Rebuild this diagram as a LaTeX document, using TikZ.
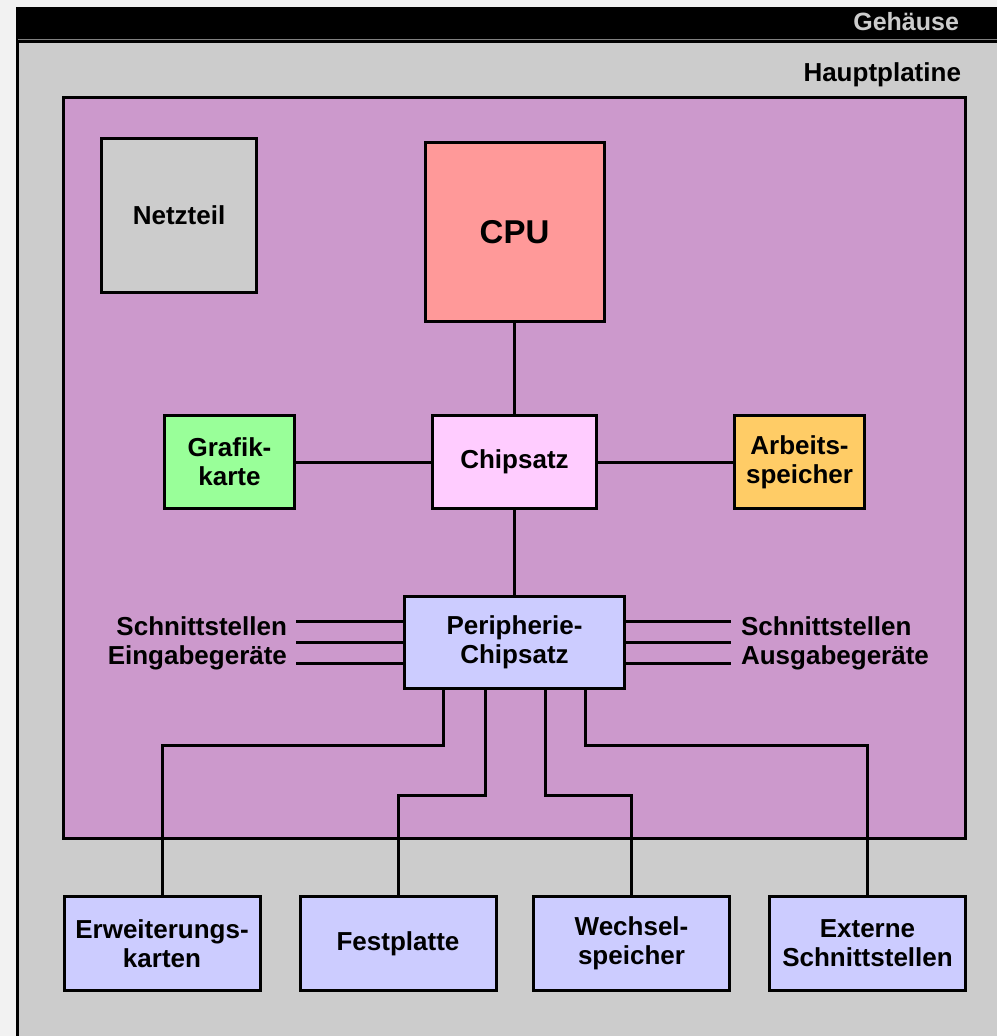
\documentclass[tikz,border=0pt]{standalone}
\usepackage{fontspec}
\setmainfont{Liberation Sans}
\usetikzlibrary{positioning}

\definecolor{pagegray}{HTML}{F2F2F2}
\definecolor{casegray}{HTML}{CCCCCC}
\definecolor{boardviolet}{HTML}{CC99CC}
\definecolor{cpured}{HTML}{FF9999}
\definecolor{chippink}{HTML}{FFCCFF}
\definecolor{gpugreen}{HTML}{99FF99}
\definecolor{ramorange}{HTML}{FFCC66}
\definecolor{periblue}{HTML}{CCCCFF}

\tikzset{box/.style={draw, line width=1.5pt, align=center, inner sep=0pt,
    font=\bfseries\fontsize{13}{14.5}\selectfont}}
\tikzset{link/.style={line width=1.5pt}}
\tikzset{lowbox/.style={box, fill=periblue, minimum width=98pt, minimum height=47pt}}

\begin{document}
\begin{tikzpicture}[x=0.5pt,y=-0.5pt]
\useasboundingbox[fill=pagegray] (0,0) rectangle (997,1036);
% Gehaeuse
\fill[black] (16,7) rectangle (997,43);
\draw[gray, line width=0.8pt] (18,39.5) -- (997,39.5);
\fill[casegray] (19,43) rectangle (997,1036);
\draw[line width=1.5pt] (17.5,1036) -- (17.5,41.5) -- (997,41.5);
\node[anchor=east, text=casegray, font=\bfseries\fontsize{12.5}{14}\selectfont] (gehaeuse) at (966,22) {Gehäuse};
\node[anchor=east, font=\bfseries\fontsize{13}{14.5}\selectfont] (hauptlabel) at (968,75) {Hauptplatine};

% Hauptplatine
\node[box, fill=boardviolet, minimum width=451pt, minimum height=370.5pt] (platine) at (514.5,468) {};

\node[box, fill=casegray, minimum width=77.5pt, minimum height=77pt] (netzteil) at (179,215.5) {Netzteil};
\node[box, fill=cpured, minimum width=89.5pt, minimum height=89.5pt, font=\bfseries\fontsize{16.5}{18}\selectfont] (cpu) at (514.5,232) {CPU};
\node[box, fill=chippink, minimum width=82pt, minimum height=46.5pt] (chipsatz) at (514.5,462) {Chipsatz};
\node[box, fill=gpugreen, minimum width=65pt, minimum height=46.5pt] (grafik) at (229.5,462) {Grafik-\\karte};
\node[box, fill=ramorange, minimum width=65pt, minimum height=46.5pt] (ram) at (799.5,462) {Arbeits-\\speicher};
\node[box, fill=periblue, minimum width=110pt, minimum height=46pt] (peri) at (514.5,642.5) {Peripherie-\\Chipsatz};

\draw[link] (cpu) -- (chipsatz);
\draw[link] (grafik) -- (chipsatz);
\draw[link] (chipsatz) -- (ram);
\draw[link] (chipsatz) -- (peri);

% Schnittstellen links und rechts
\foreach \s in {10.5,0,-10.5} {
    \draw[link] ([yshift=\s pt]peri.west) -- ++(-107,0);
    \draw[link] ([yshift=\s pt]peri.east) -- ++(105,0);
}
\node[anchor=east, align=right, font=\bfseries\fontsize{13}{14.5}\selectfont] (eingabe) at (294,643.5) {Schnittstellen\\Eingabegeräte};
\node[anchor=west, align=left, font=\bfseries\fontsize{13}{14.5}\selectfont] (ausgabe) at (734,643.5) {Schnittstellen\\Ausgabegeräte};

% Laufwerke und Karten
\node[lowbox] (erweiterung) at (162,943.5) {Erweiterungs-\\karten};
\node[lowbox] (festplatte) at (398,943.5) {Festplatte};
\node[lowbox] (wechsel) at (631.5,943.5) {Wechsel-\\speicher};
\node[lowbox] (extern) at (867.5,943.5) {Externe\\Schnittstellen};

\draw[link] ([xshift=20pt]peri.south west) -- ++(0,55) -| (erweiterung.north);
\draw[link] ([xshift=41pt]peri.south west) -- ++(0,105) -| (festplatte.north);
\draw[link] ([xshift=71pt]peri.south west) -- ++(0,105) -| (wechsel.north);
\draw[link] ([xshift=91pt]peri.south west) -- ++(0,55) -| (extern.north);
\end{tikzpicture}
\end{document}
